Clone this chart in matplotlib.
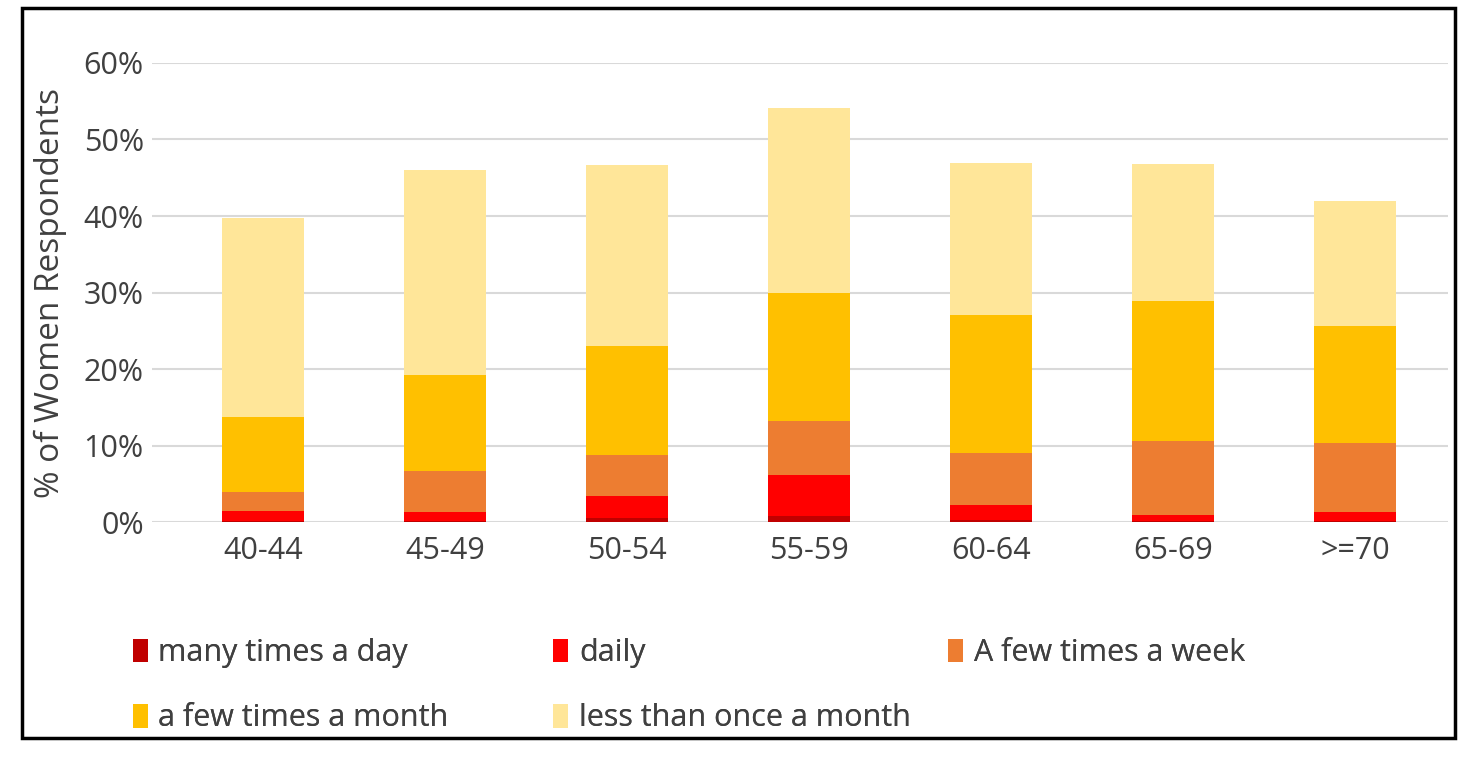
import matplotlib.pyplot as plt
import matplotlib.patches as mpatches
from matplotlib.ticker import PercentFormatter

plt.rcParams['font.family'] = ['Open Sans', 'DejaVu Sans']

# age groups and stacked shares (percent of women respondents)
ages = ['40-44', '45-49', '50-54', '55-59', '60-64', '65-69', '>=70']
many_times_day = [0.2, 0.1, 0.6, 0.8, 0.3, 0.1, 0.1]
daily = [1.3, 1.2, 2.8, 5.4, 2.0, 0.9, 1.2]
few_week = [2.5, 5.4, 5.4, 7.0, 6.8, 9.6, 9.0]
few_month = [9.7, 12.5, 14.2, 16.8, 18.0, 18.3, 15.3]
less_month = [26.1, 26.8, 23.7, 24.1, 19.8, 17.9, 16.3]

series = [
    ('many times a day', many_times_day, '#C00000'),
    ('daily', daily, '#FF0000'),
    ('A few times a week', few_week, '#ED7D31'),
    ('a few times a month', few_month, '#FFC000'),
    ('less than once a month', less_month, '#FFE699'),
]

fig = plt.figure(figsize=(14.76, 7.58), dpi=100)
ax = fig.add_axes([0.103, 0.311, 0.878, 0.606])

x = range(len(ages))
bottom = [0.0] * len(ages)
handles = []
for name, vals, col in series:
    b = ax.bar(x, vals, 0.45, bottom=bottom, color=col, label=name, zorder=3)
    handles.append(b)
    bottom = [bo + v for bo, v in zip(bottom, vals)]

ax.set_ylim(0, 60)
ax.set_xlim(-0.61, 6.51)
ax.set_yticks(range(0, 61, 10))
ax.yaxis.set_major_formatter(PercentFormatter(decimals=0))
ax.set_xticks(list(x))
ax.set_xticklabels(ages)
ax.grid(axis='y', color='#D9D9D9', linewidth=1.5, zorder=0)
for s in ax.spines.values():
    s.set_visible(False)
ax.tick_params(length=0, labelsize=22, colors='#404040', pad=10)
ax.tick_params(axis='y', pad=6)
ax.set_ylabel('% of Women Respondents', fontsize=24, color='#404040', labelpad=12)

# legend laid out row-wise like the original: one legend per column
leg_kw = dict(loc='upper left', frameon=False, fontsize=22, handlelength=0.5,
              handleheight=0.8, handletextpad=0.35, labelspacing=1.15,
              labelcolor='#404040', borderaxespad=0)
columns = [([0, 3], 0.0815), ([1, 4], 0.3665), ([2], 0.634)]
for idx, xpos in columns:
    lg = fig.legend([handles[i] for i in idx], [series[i][0] for i in idx],
                    bbox_to_anchor=(xpos, 0.174), **leg_kw)
    fig.add_artist(lg)

fig.patches.append(mpatches.Rectangle((22 / 1476, 20 / 758), 1433 / 1476, 730 / 758,
                                      transform=fig.transFigure, fill=False,
                                      edgecolor='black', linewidth=2.5))

fig.savefig('out.png', dpi=100)
